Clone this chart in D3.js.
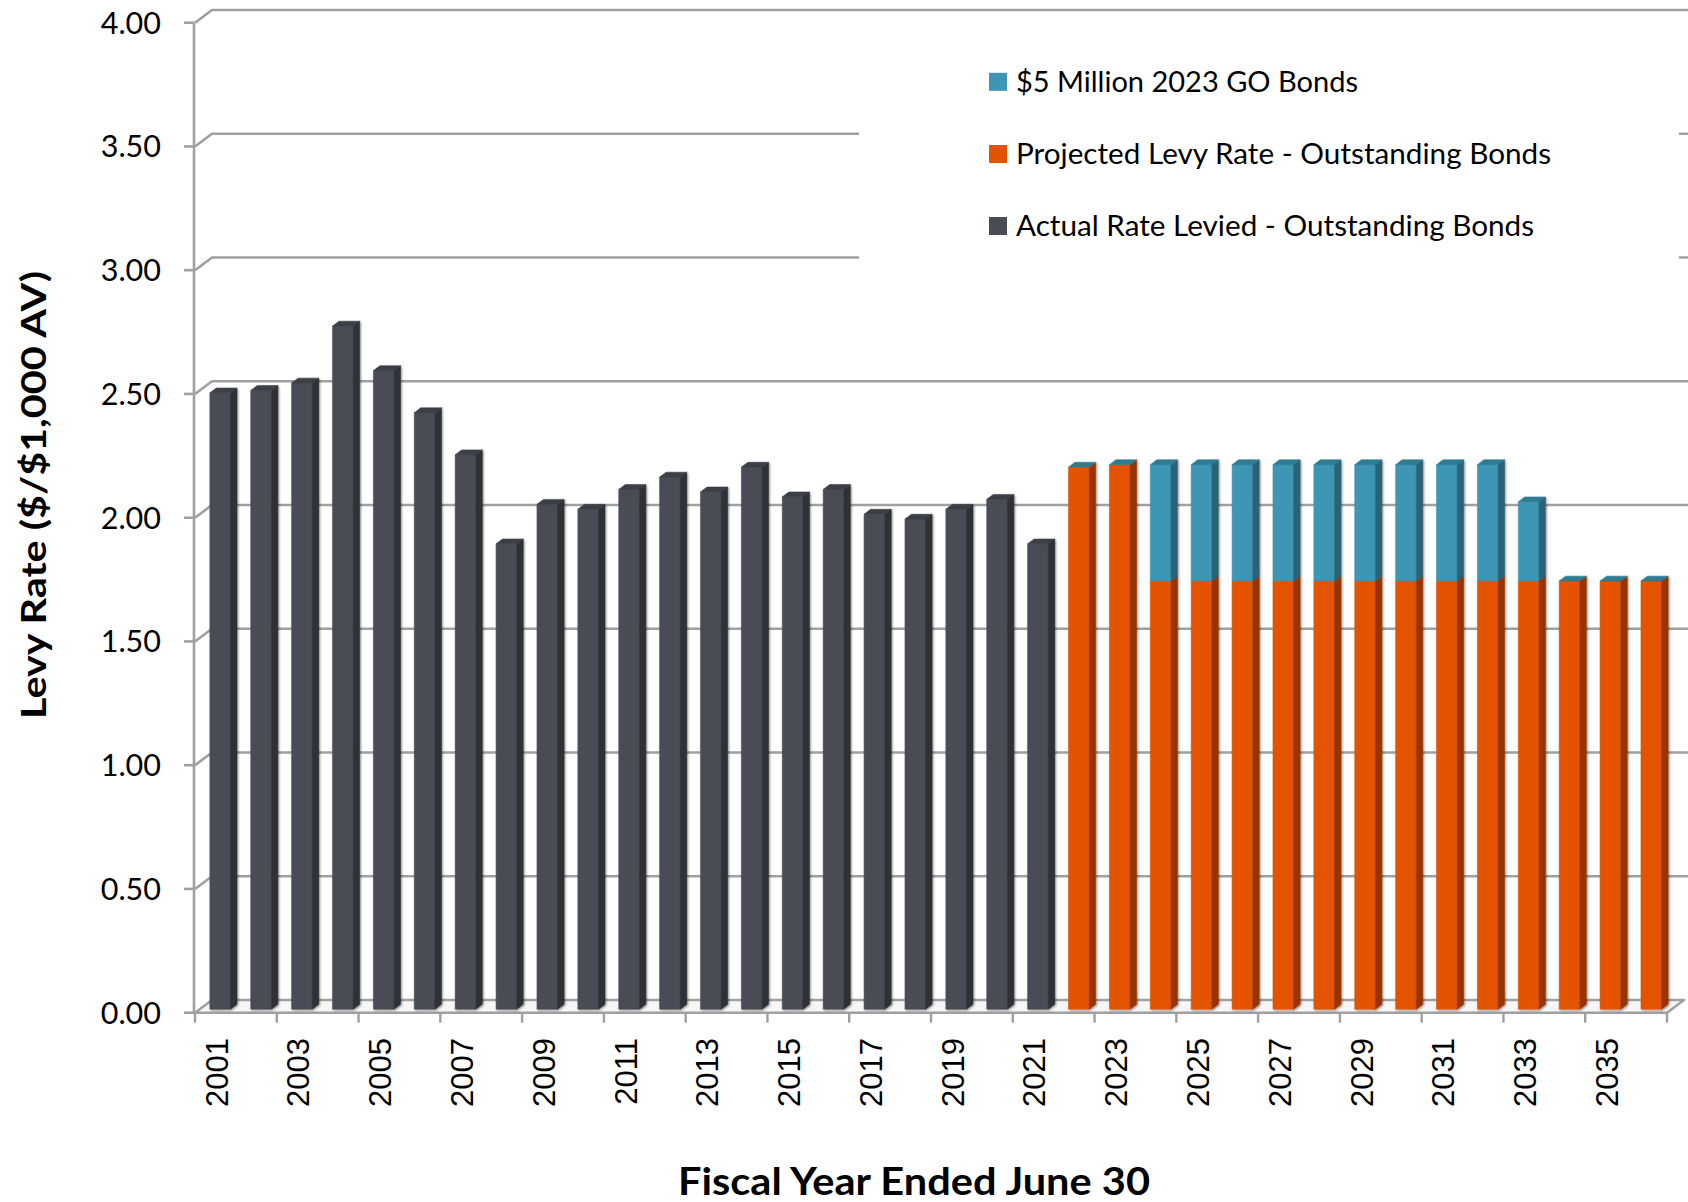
<!DOCTYPE html>
<html>
<head>
<meta charset="utf-8">
<script src="https://cdn.jsdelivr.net/npm/d3@7"></script>
<style>
  html, body { margin: 0; padding: 0; background: #ffffff; }
  svg { display: block; }
</style>
</head>
<body>
<svg id="chart" width="1688" height="1202"></svg>
<script>
// Fiscal years on the category axis
const years = ["2001","2002","2003","2004","2005","2006","2007","2008","2009","2010",
  "2011","2012","2013","2014","2015","2016","2017","2018","2019","2020",
  "2021","2022","2023","2024","2025","2026","2027","2028","2029","2030",
  "2031","2032","2033","2034","2035","2036"];

// Actual rate levied on outstanding bonds ($ per $1,000 AV)
const actualRate = [2.49, 2.50, 2.53, 2.76, 2.58, 2.41, 2.24, 1.88, 2.04, 2.02,
  2.10, 2.15, 2.09, 2.19, 2.07, 2.10, 2.00, 1.98, 2.02, 2.06,
  1.88, null, null, null, null, null, null, null, null, null,
  null, null, null, null, null, null];

// Projected levy rate on outstanding bonds
const projectedRate = [null, null, null, null, null, null, null, null, null, null,
  null, null, null, null, null, null, null, null, null, null,
  null, 2.19, 2.20, 1.73, 1.73, 1.73, 1.73, 1.73, 1.73, 1.73,
  1.73, 1.73, 1.73, 1.73, 1.73, 1.73];

// Additional rate for the $5 million 2023 GO bonds
const goBondsRate = [null, null, null, null, null, null, null, null, null, null,
  null, null, null, null, null, null, null, null, null, null,
  null, 0, 0, 0.47, 0.47, 0.47, 0.47, 0.47, 0.47, 0.47,
  0.47, 0.47, 0.32, 0, 0, 0];

const yTicks = [0, 0.5, 1, 1.5, 2, 2.5, 3, 3.5, 4];
const xLabelYears = ["2001","2003","2005","2007","2009","2011","2013","2015","2017",
  "2019","2021","2023","2025","2027","2029","2031","2033","2035"];

const seriesDefs = [
  { name: "Actual Rate Levied - Outstanding Bonds", values: actualRate,
    front: "#484c55", side: "#2d3035", top: "#3b3f46" },
  { name: "Projected Levy Rate - Outstanding Bonds", values: projectedRate,
    front: "#e35300", side: "#973600", top: "#c44800" },
  { name: "$5 Million 2023 GO Bonds", values: goBondsRate,
    front: "#3e96b4", side: "#2a6377", top: "#2f7b92" }
];
const legendOrder = [seriesDefs[2], seriesDefs[1], seriesDefs[0]];

const svg = d3.select("#chart");

// Plot geometry (front plane) and the oblique depth of the 3-D box
const x0 = 195, x1 = 1667;
const x = d3.scaleBand().domain(years).range([x0, x1]).paddingInner(0).paddingOuter(0);
const y = d3.scaleLinear().domain([0, 4]).range([1012.7, 22.7]);
const depth = { dx: 17, dy: -12.7 };
const barFrontF = 0.28, barBackF = 0.66;
const barWidthRatio = 0.506;

const proj = (px, v, f) => [px + depth.dx * f, y(v) + depth.dy * f];

const defs = svg.append("defs");
const shadow = defs.append("filter").attr("id", "barShadow")
  .attr("x", "-30%").attr("y", "-5%").attr("width", "160%").attr("height", "110%");
shadow.append("feGaussianBlur").attr("in", "SourceAlpha").attr("stdDeviation", 1.3).attr("result", "blur");
shadow.append("feOffset").attr("in", "blur").attr("dx", 0.5).attr("dy", 0.5).attr("result", "off");
shadow.append("feComponentTransfer").attr("in", "off").attr("result", "soft")
  .append("feFuncA").attr("type", "linear").attr("slope", 0.45);
const merge = shadow.append("feMerge");
merge.append("feMergeNode").attr("in", "soft");
merge.append("feMergeNode").attr("in", "SourceGraphic");

const gridColor = "#a0a0a0";

// Floor of the box
const floorPts = [proj(x0, 0, 0), proj(x1, 0, 0), proj(x1, 0, 1), proj(x0, 0, 1)];
svg.append("polygon")
  .attr("points", floorPts.map(p => p.join(",")).join(" "))
  .attr("fill", "#f6f6f6").attr("stroke", gridColor).attr("stroke-width", 2.6)
  .attr("stroke-linejoin", "round");

// Back-wall gridlines with their diagonal run across the side wall
const grid = svg.append("g").attr("fill", "none").attr("stroke", gridColor).attr("stroke-width", 2.6);
yTicks.filter(v => v > 0).forEach(v => {
  const a = proj(x0, v, 0), b = proj(x0, v, 1);
  grid.append("polyline")
    .attr("points", [a, b, [1688, b[1]]].map(p => p.join(",")).join(" "));
});

// Vertical value axis and tick marks
svg.append("line").attr("x1", x0 - 1).attr("x2", x0 - 1).attr("y1", y(4)).attr("y2", y(0))
  .attr("stroke", gridColor).attr("stroke-width", 2.6);
svg.append("g").selectAll("line").data(yTicks).join("line")
  .attr("x1", x0 - 11).attr("x2", x0 - 1)
  .attr("y1", d => y(d)).attr("y2", d => y(d))
  .attr("stroke", gridColor).attr("stroke-width", 2.6);
svg.append("g").selectAll("text").data(yTicks).join("text")
  .attr("x", 161).attr("y", d => y(d) + 11)
  .attr("text-anchor", "end")
  .style("font-family", "Lato, 'Open Sans', sans-serif").style("font-size", "30.5px").attr("fill", "#000")
  .text(d => d3.format(".2f")(d));

// Category axis ticks every second year
const tickIdx = d3.range(0, years.length + 1, 2);
svg.append("g").selectAll("line").data(tickIdx).join("line")
  .attr("x1", i => x0 + i * x.bandwidth()).attr("x2", i => x0 + i * x.bandwidth())
  .attr("y1", y(0)).attr("y2", y(0) + 10)
  .attr("stroke", gridColor).attr("stroke-width", 2.4);
svg.append("g").selectAll("text").data(xLabelYears).join("text")
  .attr("transform", d => `translate(${x(d) + x.bandwidth() / 2 + 1},1038) rotate(-90)`)
  .attr("text-anchor", "end").attr("dy", "0.36em")
  .style("font-family", "'Liberation Sans', Arial, sans-serif").style("font-size", "31px").attr("fill", "#000")
  .text(d => d);

// Stacked 3-D columns
const bars = svg.append("g");
years.forEach((yr, i) => {
  const segs = [];
  let base = 0, topSeries = null;
  seriesDefs.forEach(s => {
    const v = s.values[i];
    if (v === null || v === undefined) return;
    topSeries = s;
    if (v > 0) { segs.push({ s, v0: base, v1: base + v }); base += v; }
  });
  if (!topSeries) return;
  const w = x.bandwidth() * barWidthRatio;
  const cx = x(yr) + x.bandwidth() / 2;
  const L = cx - w / 2, R = cx + w / 2;
  const g = bars.append("g").attr("filter", "url(#barShadow)");
  segs.forEach(seg => {
    const front = [proj(L, seg.v0, barFrontF), proj(R, seg.v0, barFrontF),
                   proj(R, seg.v1, barFrontF), proj(L, seg.v1, barFrontF)];
    const side = [proj(R, seg.v0, barFrontF), proj(R, seg.v0, barBackF),
                  proj(R, seg.v1, barBackF), proj(R, seg.v1, barFrontF)];
    g.append("polygon").attr("points", front.map(p => p.join(",")).join(" "))
      .attr("fill", seg.s.front).attr("stroke", seg.s.front).attr("stroke-width", 0.5);
    g.append("polygon").attr("points", side.map(p => p.join(",")).join(" "))
      .attr("fill", seg.s.side).attr("stroke", seg.s.side).attr("stroke-width", 0.5);
  });
  const top = [proj(L, base, barFrontF), proj(R, base, barFrontF),
               proj(R, base, barBackF), proj(L, base, barBackF)];
  g.append("polygon").attr("points", top.map(p => p.join(",")).join(" "))
    .attr("fill", topSeries.top).attr("stroke", topSeries.top).attr("stroke-width", 0.5);
});

// Legend panel
const legend = svg.append("g");
legend.append("rect").attr("x", 859).attr("y", 40).attr("width", 820).attr("height", 250).attr("fill", "#ffffff");
const legendRowsY = [81.8, 154, 226];
const legendWidths = [342, 535, 518];
legendOrder.forEach((s, k) => {
  legend.append("rect").attr("x", 989).attr("y", legendRowsY[k] - 9).attr("width", 18).attr("height", 18)
    .attr("fill", s.front);
  legend.append("text").attr("x", 1016).attr("y", legendRowsY[k] + 10)
    .style("font-family", "Lato, 'Open Sans', sans-serif").style("font-size", "28px").attr("fill", "#000")
    .attr("textLength", legendWidths[k]).attr("lengthAdjust", "spacingAndGlyphs")
    .text(s.name);
});

// Axis titles
svg.append("text")
  .attr("transform", "translate(46,495) rotate(-90)")
  .attr("text-anchor", "middle")
  .style("font-family", "Lato, 'Open Sans', sans-serif").style("font-size", "34px").style("font-weight", "bold")
  .attr("textLength", 448).attr("lengthAdjust", "spacingAndGlyphs")
  .text("Levy Rate ($/$1,000 AV)");
svg.append("text")
  .attr("x", 914).attr("y", 1195)
  .attr("text-anchor", "middle")
  .style("font-family", "Lato, 'Open Sans', sans-serif").style("font-size", "38px").style("font-weight", "bold")
  .attr("textLength", 472).attr("lengthAdjust", "spacingAndGlyphs")
  .text("Fiscal Year Ended June 30");
</script>
</body>
</html>
